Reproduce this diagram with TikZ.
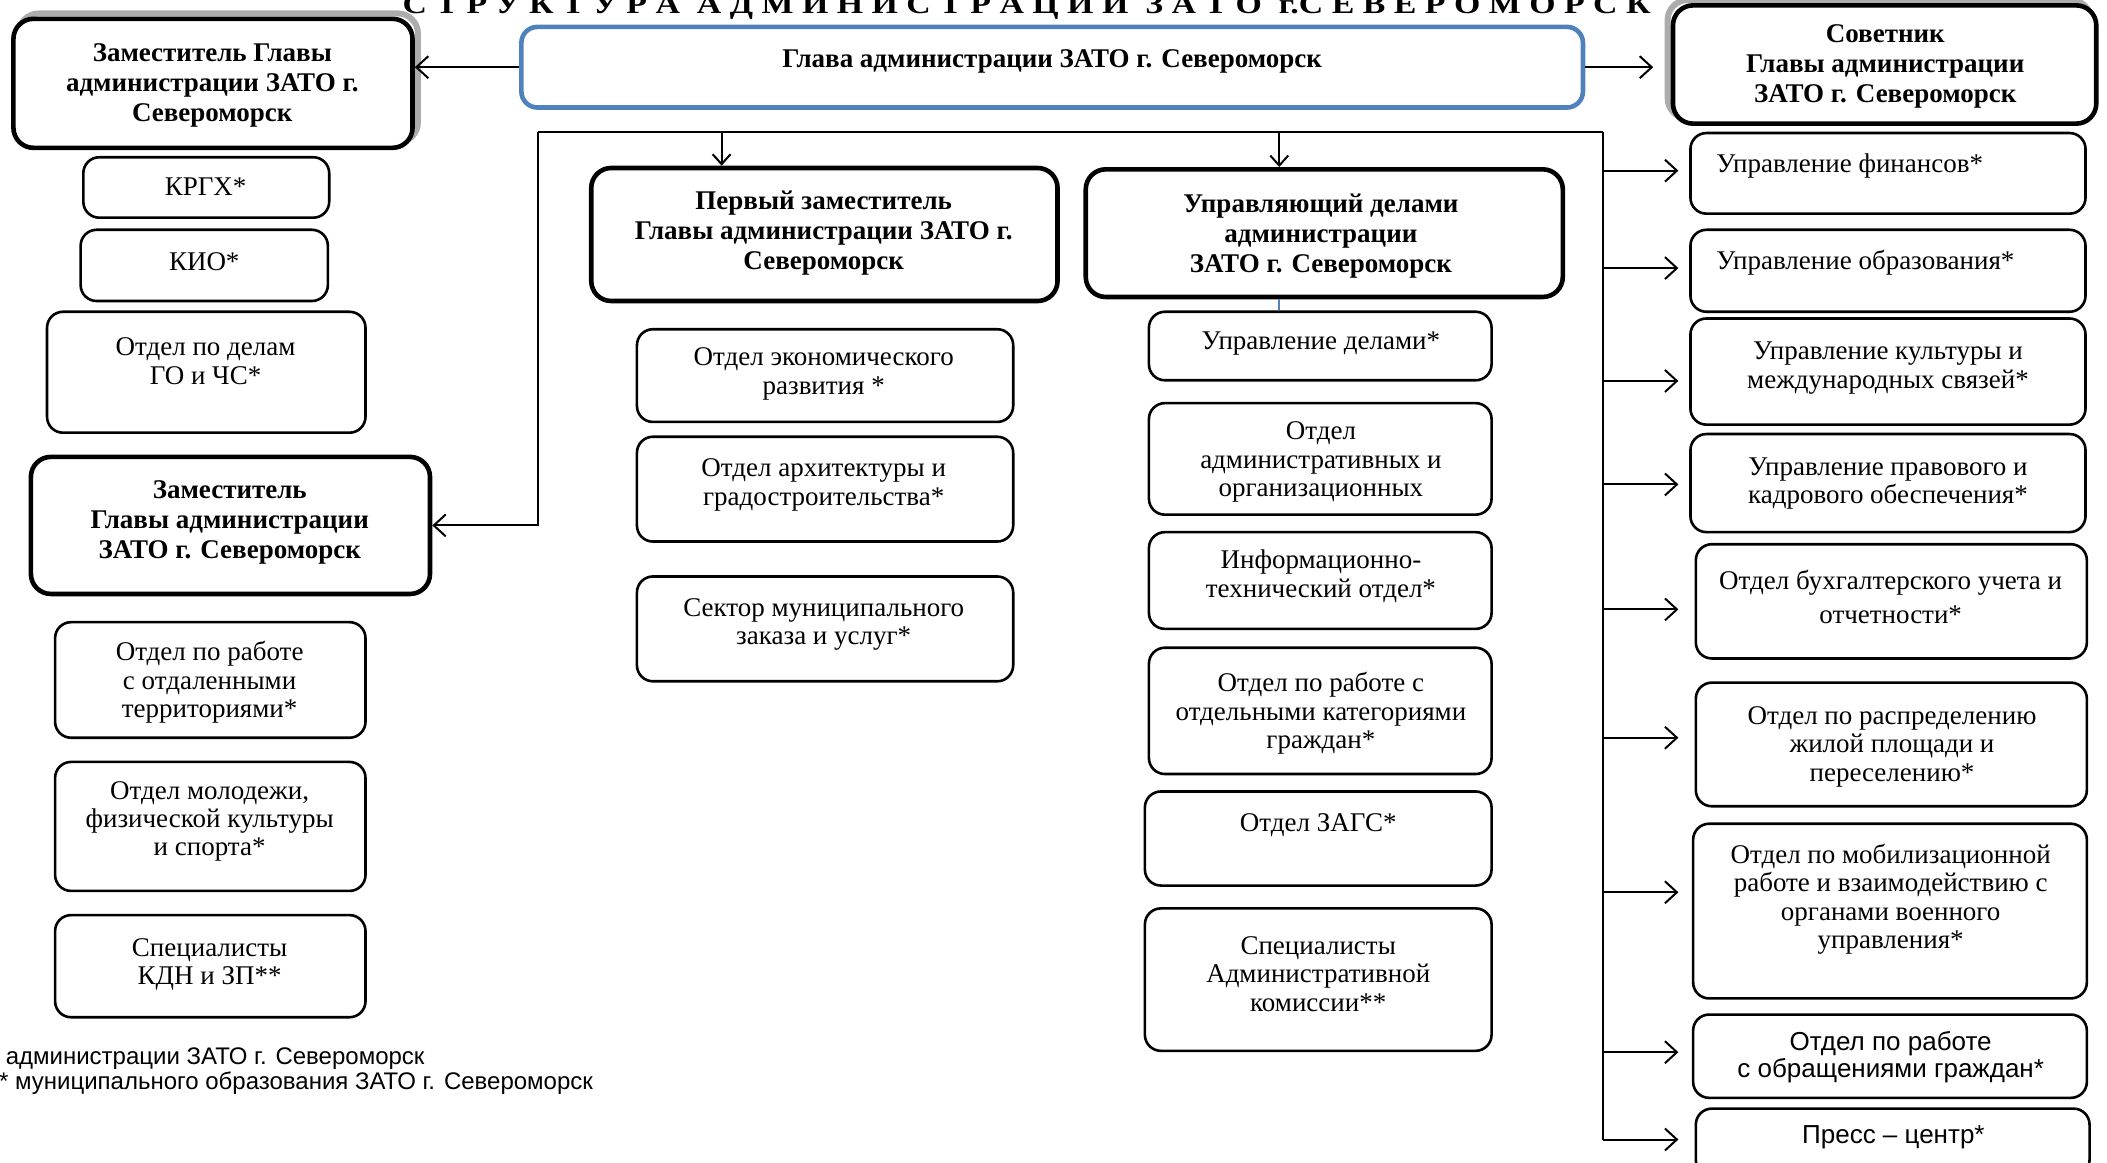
\documentclass[tikz,border=0pt]{standalone}
\usepackage{graphicx}
\usepackage{fontspec}
\setmainfont{Liberation Serif}
\newfontfamily\arialf{Liberation Sans}
\usetikzlibrary{fit,calc,arrows.meta}
\definecolor{wordblue}{RGB}{79,129,189}
\tikzset{
  box/.style={draw, fill=white, rounded corners=8pt, line width=1.3pt, inner sep=0pt},
  hbox/.style={draw, fill=white, rounded corners=10pt, line width=2.3pt, inner sep=0pt},
  gbox/.style={draw=wordblue, fill=white, rounded corners=8pt, line width=2.3pt, inner sep=0pt},
  shade/.style={draw=gray!65, line width=3pt, rounded corners=10pt},
  txt/.style={align=center, inner sep=0pt, yshift=-1.2pt, font=\fontsize{13.5}{14.2}\selectfont},
  btxt/.style={align=center, inner sep=0pt, yshift=-1.2pt, font=\bfseries\fontsize{13.5}{15}\selectfont},
  atxt/.style={align=center, inner sep=0pt, yshift=-1pt, font=\arialf\fontsize{13}{13.6}\selectfont},
  ftxt/.style={anchor=base west, inner sep=0pt, font=\arialf\fontsize{12}{13}\selectfont},
  conn/.style={line width=1pt},
  ar/.style={line width=1pt, -{Straight Barb[length=6pt,width=11pt,line width=1pt]}},
  dar/.style={line width=1pt, -{Straight Barb[length=5pt,width=9pt,line width=1pt]}},
}
\begin{document}
\begin{tikzpicture}[x=0.6719pt,y=-0.6719pt]
\useasboundingbox (0,0) rectangle (1568,865);

% title (clipped at top of page, as in the original)
\node[anchor=base, inner sep=0pt, font=\bfseries\fontsize{14}{14}\selectfont] (title) at (764,10)
  {\resizebox{624pt}{\height}{С Т Р У К Т У Р А \ А Д М И Н И С Т Р А Ц И И \ З А Т О \ г.С Е В Е Р О М О Р С К}};

% shadows
\draw[shade] (14,10) rectangle (311,106);
\draw[shade] (1241,0) rectangle (1556,88);

% top level
\node[gbox, fit={(388,20) (1178,80)}] (glava) {};
\node[btxt] (glavaT) at (783,44) {Глава администрации ЗАТО г. Североморск};

\node[hbox, fit={(10,14) (307,110)}] (zam1) {};
\node[btxt] (zam1T) at (158,61.5) {Заместитель Главы\\администрации ЗАТО г.\\Североморск};

\node[hbox, fit={(1245,4) (1560,92)}] (sov) {};
\node[btxt] (sovT) at (1403,48) {Советник\\Главы администрации\\ЗАТО г. Североморск};

% left column
\node[box, fit={(62,117) (245,162)}] (krgh) {};
\node[txt] (krghT) at (153,137) {КРГХ*};
\node[box, fit={(60,171) (244,224)}] (kio) {};
\node[txt] (kioT) at (152,193) {КИО*};
\node[box, fit={(35,232) (272,322)}] (go) {};
\node[txt] (goT) at (153,267) {Отдел по делам\\ГО и ЧС*};

\node[hbox, fit={(23,340) (320,442)}] (zam2) {};
\node[btxt] (zam2T) at (171,387) {Заместитель\\Главы администрации\\ЗАТО г. Североморск};

\node[box, fit={(41,463) (272,549)}] (terr) {};
\node[txt] (terrT) at (156,506) {Отдел по работе\\с отдаленными\\территориями*};
\node[box, fit={(41,567) (272,663)}] (mol) {};
\node[txt] (molT) at (156,609.5) {Отдел молодежи,\\физической культуры\\и спорта*};
\node[box, fit={(41,681) (272,757)}] (kdn) {};
\node[txt] (kdnT) at (156,716) {Специалисты\\КДН и ЗП**};

\node[ftxt] (fn1) at (4,792) {администрации ЗАТО г. Североморск};
\node[ftxt] (fn2) at (-1,811) {* муниципального образования ЗАТО г. Североморск};

% middle column 1
\node[hbox, fit={(440,125) (787,224)}] (perv) {};
\node[btxt] (pervT) at (613,172) {Первый заместитель\\Главы администрации ЗАТО г.\\Североморск};
\node[box, fit={(474,245) (754,314)}] (econ) {};
\node[txt] (econT) at (613,276.5) {Отдел экономического\\развития *};
\node[box, fit={(474,325) (754,403)}] (arch) {};
\node[txt] (archT) at (613,359) {Отдел архитектуры и\\градостроительства*};
\node[box, fit={(474,429) (754,507)}] (sekt) {};
\node[txt] (sektT) at (613,463) {Сектор муниципального\\заказа и услуг*};

% middle column 2
\node[hbox, fit={(808,126) (1163,221)}] (upr) {};
\node[btxt] (uprT) at (983,174) {Управляющий делами\\администрации\\ЗАТО г. Североморск};
\node[box, fit={(855,232) (1110,283)}] (upd) {};
\node[txt] (updT) at (983,254) {Управление делами*};
\node[box, fit={(855,300) (1110,383)}] (adm) {};
\node[txt] (admT) at (983,342) {Отдел\\административных и\\организационных};
\node[box, fit={(855,396) (1110,468)}] (inf) {};
\node[txt] (infT) at (983,427) {Информационно-\\технический отдел*};
\node[box, fit={(855,482) (1110,576)}] (kat) {};
\node[txt] (katT) at (983,529) {Отдел по работе с\\отдельными категориями\\граждан*};
\node[box, fit={(852,589) (1110,659)}] (zags) {};
\node[txt] (zagsT) at (981,612) {Отдел ЗАГС*};
\node[box, fit={(852,676) (1110,782)}] (spec) {};
\node[txt] (specT) at (981,723) {Специалисты\\Административной\\комиссии**};

% right column
\node[box, fit={(1258,99) (1552,159)}] (fin) {};
\node[txt, anchor=west] (finT) at (1277,122) {Управление финансов*};
\node[box, fit={(1258,171) (1552,232)}] (obr) {};
\node[txt, anchor=west] (obrT) at (1277,194) {Управление образования*};
\node[box, fit={(1258,237) (1552,316)}] (kult) {};
\node[txt] (kultT) at (1405,272) {Управление культуры и\\международных связей*};
\node[box, fit={(1258,323) (1552,396)}] (prav) {};
\node[txt] (pravT) at (1405,358) {Управление правового и\\кадрового обеспечения*};
\node[box, fit={(1262,405) (1553,490)}] (buh) {};
\node[txt] (buhT) at (1407,442.5) {Отдел бухгалтерского учета и\\[3pt]отчетности*};
\node[box, fit={(1262,508) (1553,600)}] (rasp) {};
\node[txt] (raspT) at (1408,554) {Отдел по распределению\\жилой площади и\\переселению*};
\node[box, fit={(1260,613) (1553,743)}] (mob) {};
\node[txt] (mobT) at (1407,667.5) {Отдел по мобилизационной\\работе и взаимодействию с\\органами военного\\управления*};
\node[box, fit={(1260,755) (1553,817)}] (obrash) {};
\node[atxt] (obrashT) at (1407,785) {Отдел по работе\\с обращениями граждан*};
\node[box, fit={(1262,825) (1555,875)}] (press) {};
\node[atxt] (pressT) at (1409,845) {Пресс – центр*};

% connectors from the head
\draw[ar] (glava.west) -- (glava.west -| zam1.east);
\coordinate (sovA) at ($(sov.west)+(-13,0)$);
\draw[ar] (glava.east) -- (glava.east -| sovA);

% bracket
\coordinate (tl) at (400,98);
\coordinate (tr) at (1193,98);
\coordinate (d1) at (537,98);
\coordinate (d2) at (952,98);
\draw[conn] (tl) -- (tr);
\draw[ar] (tl) |- (zam2.east);
\draw[dar] (d1) -- (d1 |- perv.north);
\draw[dar] (d2) -- (d2 |- upr.north);
\draw[line width=1pt, wordblue] (d2 |- upr.south) -- (d2 |- upd.north);

% right branch
\coordinate (finA) at ($(fin.west)+(-8,-2)$);
\coordinate (obrA) at ($(obr.west)+(-8,-2)$);
\coordinate (kultA) at ($(kult.west)+(-8,7)$);
\coordinate (pravA) at ($(prav.west)+(-8,1)$);
\coordinate (buhA) at ($(buh.west)+(-12,6)$);
\coordinate (raspA) at ($(rasp.west)+(-12,-5)$);
\coordinate (mobA) at ($(mob.west)+(-10,-14)$);
\coordinate (obrashA) at ($(obrash.west)+(-10,-3)$);
\coordinate (pressA) at ($(press.west)+(-12,-2)$);
\draw[conn] (tr) -- (tr |- pressA);
\foreach \n in {finA,obrA,kultA,pravA,buhA,raspA,mobA,obrashA,pressA}
  \draw[ar] (tr |- \n) -- (\n);
\end{tikzpicture}
\end{document}
